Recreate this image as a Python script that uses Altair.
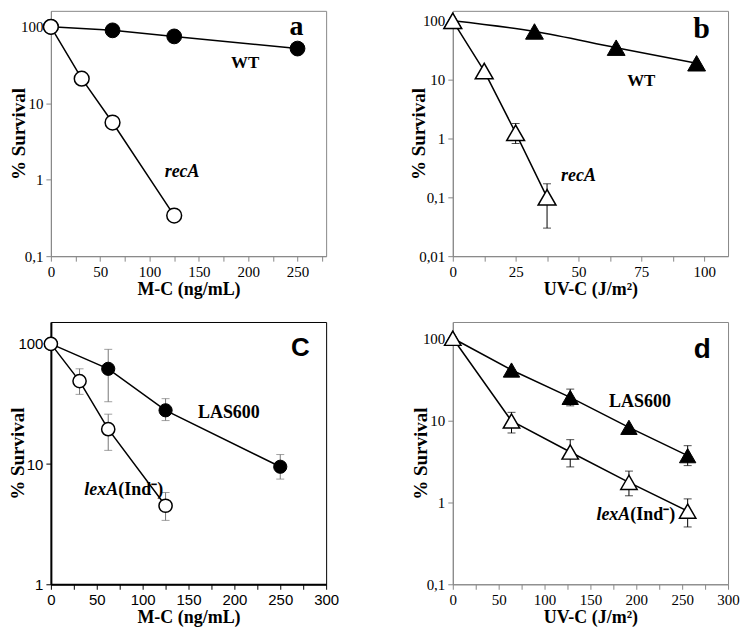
import altair as alt
import pandas as pd

# ---------------- data ----------------
# Panel a: M-C, WT vs recA
a_wt_x = [0, 62.5, 125, 250]
a_wt_y = [100, 90, 75, 52]
a_rec_x = [0, 31.25, 62.5, 125]
a_rec_y = [100, 21, 5.6, 0.34]

# Panel b: UV-C, WT vs recA
b_wt_x = [0, 32.5, 65, 97]
b_wt_y = [100, 66, 35, 19]
b_rec_x = [0, 12.5, 25, 37.5]
b_rec_y = [100, 14, 1.25, 0.1]
b_err_x = [25, 37.5]
b_err_lo = [0.82, 0.03]
b_err_hi = [1.8, 0.17]

# Panel c: M-C, LAS600 vs lexA(Ind-)
c_las_x = [0, 62.5, 125, 250]
c_las_y = [100, 62, 28, 9.5]
c_las_lo = [100, 33, 23, 7.5]
c_las_hi = [100, 90, 35, 12]
c_lex_x = [0, 31.25, 62.5, 125]
c_lex_y = [100, 49, 19.5, 4.5]
c_lex_lo = [100, 38, 13, 3.4]
c_lex_hi = [100, 62, 26, 5.8]

# Panel d: UV-C, LAS600 vs lexA(Ind-)
d_las_x = [0, 64, 128, 192, 256]
d_las_y = [100, 41, 19, 8.2, 3.7]
d_las_lo = [100, 41, 15, 8.2, 2.8]
d_las_hi = [100, 41, 24, 8.2, 4.9]
d_lex_x = [0, 64, 128, 192, 256]
d_lex_y = [100, 9.8, 4.1, 1.75, 0.78]
d_lex_lo = [100, 7, 2.7, 1.2, 0.5]
d_lex_hi = [100, 12.5, 5.8, 2.4, 1.1]

SERIF = "Liberation Serif"
SANS = "Liberation Sans"


def pts(xs, ys):
    return pd.DataFrame({"x": xs, "y": ys})


def errs(xs, lo, hi):
    return pd.DataFrame({"x": xs, "lo": lo, "hi": hi})


def make_panel(filled, opened, err_frames, xdom, ydom, xvals, xstep, yvals,
               xtitle, shape, fsize, osize, interp_f, interp_o,
               texts, black_axes=False, tick_font=SERIF, errcolor="black", ytpad=-8):
    axcol = "black" if black_axes else "#888888"
    dwidth = 2 if black_axes else 1
    xaxis = alt.Axis(values=xvals, grid=False, title=xtitle,
                     labelExpr=f"datum.value % {xstep} == 0 ? datum.label : ''",
                     domainColor=axcol, domainWidth=dwidth, tickColor=axcol,
                     tickSize=5, labelPadding=3, labelFont=tick_font,
                     labelFontSize=15, labelColor="black",
                     titleFont=SERIF, titleFontSize=18, titleFontWeight="bold",
                     titlePadding=1, titleColor="black", labelFlush=False)
    yaxis = alt.Axis(values=yvals, grid=False, title="% Survival",
                     labelExpr="replace(toString(datum.value), '.', ',')",
                     domainColor=axcol, domainWidth=dwidth, tickColor=axcol,
                     tickSize=5, labelPadding=3, labelFont=tick_font,
                     labelFontSize=15, labelColor="black",
                     titleFont=SERIF, titleFontSize=19, titleFontWeight="bold",
                     titlePadding=ytpad, titleColor="black", labelFlush=False)
    X = alt.X("x:Q", scale=alt.Scale(domain=xdom, nice=False, zero=False), axis=xaxis)
    Y = alt.Y("y:Q", scale=alt.Scale(type="log", domain=ydom, nice=False), axis=yaxis)

    layers = []
    layers.append(alt.Chart(filled).mark_line(color="black", strokeWidth=1.5,
                                               interpolate=interp_f).encode(x=X, y=Y))
    layers.append(alt.Chart(opened).mark_line(color="black", strokeWidth=1.5,
                                              interpolate=interp_o).encode(x=X, y=Y))
    for ef in err_frames:
        layers.append(alt.Chart(ef).mark_rule(color=errcolor, strokeWidth=1).encode(
            x=X, y=alt.Y("lo:Q", scale=alt.Scale(type="log", domain=ydom, nice=False), axis=yaxis),
            y2="hi:Q"))
        for col in ["lo", "hi"]:
            layers.append(alt.Chart(ef).mark_tick(color=errcolor, orient="horizontal",
                                                  size=8, thickness=1).encode(
                x=X, y=alt.Y(f"{col}:Q", scale=alt.Scale(type="log", domain=ydom, nice=False),
                             axis=yaxis)))
    layers.append(alt.Chart(filled).mark_point(shape=shape, size=fsize, filled=True,
                                               fill="black", stroke="black", strokeWidth=1,
                                               opacity=1).encode(x=X, y=Y))
    layers.append(alt.Chart(opened).mark_point(shape=shape, size=osize, filled=True,
                                               fill="white", stroke="black", strokeWidth=1.5,
                                               opacity=1).encode(x=X, y=Y))
    for t in texts:
        df = pd.DataFrame({"x": [t["x"]], "y": [t["y"]], "label": [t["label"]]})
        layers.append(alt.Chart(df).mark_text(
            font=t.get("font", SERIF), fontSize=t.get("size", 18),
            fontWeight="bold", fontStyle=t.get("style", "normal"),
            align=t.get("align", "center"), baseline="middle", color="black"
        ).encode(x=X, y=Y, text="label:N"))
    return layers


# ---------- panel a ----------
a_layers = make_panel(
    pts(a_wt_x, a_wt_y), pts(a_rec_x, a_rec_y), [],
    [0, 279], [0.1, 162], list(range(0, 276, 25)), 50, [0.1, 1, 10, 100],
    "M-C (ng/mL)", "circle", 220, 220, "linear", "linear",
    [dict(x=249, y=100, label="a", size=28),
     dict(x=197, y=34, label="WT", size=17),
     dict(x=133, y=1.27, label="recA", size=18, style="italic")])
panel_a = alt.layer(*a_layers).properties(
    width=276, height=246, view=alt.ViewBackground(stroke="#888888", strokeWidth=1))

# ---------- panel b ----------
b_layers = make_panel(
    pts(b_wt_x, b_wt_y), pts(b_rec_x, b_rec_y), [errs(b_err_x, b_err_lo, b_err_hi)],
    [0, 109.5], [0.01, 148], [i * 12.5 for i in range(0, 9)], 25, [0.01, 0.1, 1, 10, 100],
    "UV-C (J/m²)", "triangle-up", 320, 320, "monotone", "linear",
    [dict(x=99, y=73, label="b", size=30),
     dict(x=75, y=9.6, label="WT", size=17),
     dict(x=50, y=0.23, label="recA", size=18, style="italic")],
    ytpad=-10)
panel_b = alt.layer(*b_layers).properties(
    width=276, height=246, view=alt.ViewBackground(stroke="#888888", strokeWidth=1))

# ---------- panel c ----------
c_layers = make_panel(
    pts(c_las_x, c_las_y), pts(c_lex_x, c_lex_y),
    [errs(c_las_x[1:], c_las_lo[1:], c_las_hi[1:]), errs(c_lex_x[1:], c_lex_lo[1:], c_lex_hi[1:])],
    [0, 300], [1, 152], list(range(0, 301, 25)), 50, [1, 10, 100],
    "M-C (ng/mL)", "circle", 175, 175, "linear", "linear",
    [dict(x=272, y=93, label="C", size=26, font=SANS),
     dict(x=194, y=26.6, label="LAS600", size=18),
     dict(x=73.4, y=6.07, label="lexA", size=18, style="italic", align="right"),
     dict(x=73.4, y=6.07, label="(Ind⁻)", size=18, align="left")],
    black_axes=True, tick_font=SANS, errcolor="#777777", ytpad=-10)
panel_c = alt.layer(*c_layers).properties(
    width=276, height=263, view=alt.ViewBackground(stroke="black", strokeWidth=1))

# ---------- panel d ----------
d_layers = make_panel(
    pts(d_las_x, d_las_y), pts(d_lex_x, d_lex_y),
    [errs(d_las_x[1:], d_las_lo[1:], d_las_hi[1:]), errs(d_lex_x[1:], d_lex_lo[1:], d_lex_hi[1:])],
    [0, 300], [0.1, 158], list(range(0, 301, 25)), 50, [0.1, 1, 10, 100],
    "UV-C (J/m²)", "triangle-up", 270, 270, "linear", "linear",
    [dict(x=272, y=71, label="d", size=28, font=SANS),
     dict(x=204, y=16.6, label="LAS600", size=18),
     dict(x=193.5, y=0.69, label="lexA", size=18, style="italic", align="right"),
     dict(x=193.5, y=0.69, label="(Ind⁻)", size=18, align="left")])
panel_d = alt.layer(*d_layers).properties(
    width=276, height=263, view=alt.ViewBackground(stroke="#888888", strokeWidth=1))

chart = alt.concat(panel_a, panel_b, panel_c, panel_d, columns=2,
                   spacing={"row": 66, "column": 127}).properties(
    bounds="flush", padding=0, background="white"
).resolve_scale(x="independent", y="independent")

chart.save("out.html", embed_options={"renderer": "svg", "actions": False})
